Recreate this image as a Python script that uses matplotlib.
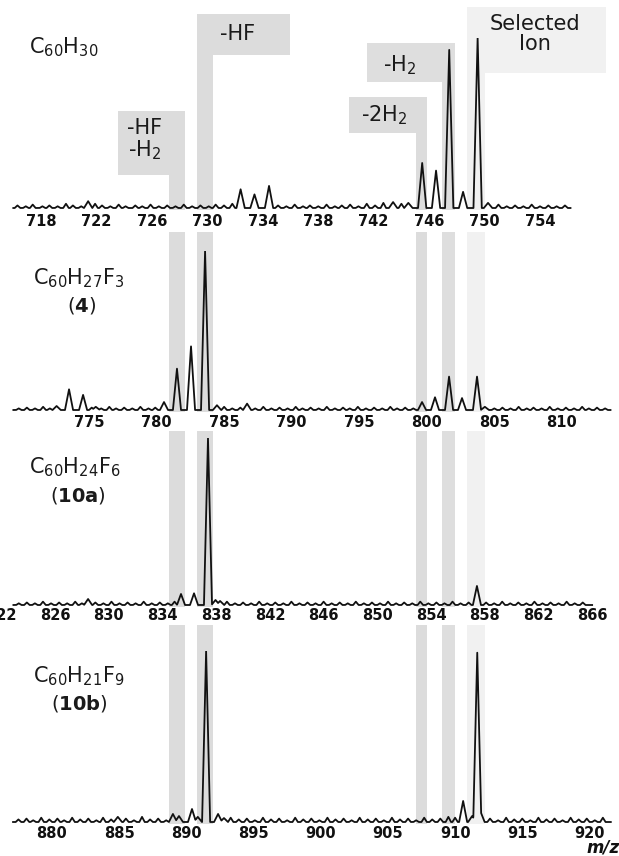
import matplotlib
matplotlib.use('Agg')
import matplotlib.pyplot as plt
import numpy as np
from matplotlib.patches import Rectangle

W, H = 619, 856

# ---- spectra: peak positions (m/z) and relative intensity (%) ----
names = [r'$\mathrm{C_{60}H_{30}}$', r'$\mathrm{C_{60}H_{27}F_3}$',
         r'$\mathrm{C_{60}H_{24}F_6}$', r'$\mathrm{C_{60}H_{21}F_9}$']
labels = ['', r'($\mathbf{4}$)', r'($\mathbf{10a}$)', r'($\mathbf{10b}$)']

ranges = [(716.0, 756.2), (769.4, 813.6), (822.9, 866.0), (877.1, 921.6)]

peak_mz = [
    [721.4, 732.4, 733.4, 734.45, 743.4, 744.5, 745.5, 746.5, 747.45, 748.45,
     749.5, 750.25],
    [772.6, 773.52, 774.56, 775.5, 780.55, 781.51, 782.55, 783.59, 784.47,
     786.7, 799.65, 800.61, 801.65, 802.61, 803.72, 804.3],
    [828.46, 835.38, 836.35, 837.39, 837.95, 838.29, 857.42],
    [884.9, 889.0, 889.45, 890.42, 890.85, 891.47, 892.36, 892.8, 910.6,
     911.27, 911.65, 911.9],
]
peak_int = [
    [4, 11, 8, 13, 3.5, 3, 26.5, 22, 93, 9.5, 100, 3],
    [2.5, 13, 9.5, 2, 5, 26, 40, 100, 3, 4, 5, 8, 21, 7.5, 21, 2],
    [3.6, 6.6, 7, 100, 3, 2.4, 11.4],
    [3, 4.7, 3.5, 7.6, 3, 100, 4.7, 2.3, 12.3, 3.5, 99, 6],
]

# baseline noise
noise_mz = [
    [716.3, 716.9, 717.4, 718.1, 718.6, 719.2, 719.8, 720.3, 720.9, 721.9,
     722.4, 723.0, 723.6, 724.1, 724.8, 725.3, 725.9, 726.5, 727.1, 727.7,
     728.3, 728.9, 729.5, 730.1, 730.6, 731.2, 731.8, 735.1, 735.7, 736.3,
     736.9, 737.4, 738.0, 738.6, 739.2, 739.7, 740.3, 740.9, 741.5, 742.1,
     742.7, 744.0, 751.0, 751.6, 752.2, 752.8, 753.4, 754.0, 754.6, 755.2,
     755.8],
    [769.8, 770.4, 771.0, 771.6, 772.1, 775.2, 775.9, 776.5, 777.0, 777.6,
     778.2, 778.8, 779.4, 779.9, 785.0, 785.6, 786.2, 787.3, 787.9, 788.5,
     789.1, 789.7, 790.3, 790.8, 791.4, 792.0, 792.6, 793.2, 793.8, 794.3,
     794.9, 795.5, 796.1, 796.7, 797.3, 797.8, 798.4, 799.0, 805.0, 805.6,
     806.2, 806.8, 807.4, 807.9, 808.5, 809.1, 809.7, 810.3, 810.9, 811.5,
     812.0, 812.6, 813.2],
    [823.3, 823.9, 824.5, 825.1, 825.7, 826.3, 826.9, 827.5, 828.0, 829.0,
     829.6, 830.2, 830.8, 831.4, 832.0, 832.6, 833.2, 833.8, 834.4, 834.9,
     838.8, 839.4, 840.0, 840.6, 841.2, 841.8, 842.4, 843.0, 843.6, 844.2,
     844.8, 845.4, 846.0, 846.6, 847.2, 847.8, 848.4, 849.0, 849.6, 850.2,
     850.8, 851.4, 852.0, 852.6, 853.2, 853.8, 854.4, 855.0, 855.6, 856.2,
     856.8, 858.1, 858.7, 859.3, 859.9, 860.5, 861.1, 861.7, 862.3, 862.9,
     863.5, 864.1, 864.7, 865.3],
    [877.5, 878.1, 878.6, 879.2, 879.8, 880.4, 880.9, 881.5, 882.1, 882.7,
     883.3, 883.8, 884.4, 885.5, 886.1, 886.7, 887.3, 887.9, 888.5, 893.3,
     893.9, 894.5, 895.1, 895.7, 896.3, 896.9, 897.5, 898.1, 898.7, 899.3,
     899.9, 900.5, 901.1, 901.7, 902.3, 902.9, 903.5, 904.1, 904.7, 905.3,
     905.9, 906.5, 907.1, 907.7, 908.3, 908.9, 909.5, 910.0, 912.6, 913.2,
     913.8, 914.4, 915.0, 915.6, 916.2, 916.8, 917.4, 918.0, 918.6, 919.2,
     919.8, 920.4, 921.0],
]
noise_int = [
    [1.5, 1, 2, 1, 1.5, 1, 2.5, 1.5, 1, 2.5, 1.5, 1, 2, 1, 1.5, 1, 2, 1, 1.5,
     1, 2, 1, 1.5, 1, 2, 1.5, 2.5, 1.5, 1, 2, 1, 1.5, 1, 2, 1, 1.5, 2, 1, 2.5,
     1.5, 3, 2.5, 2, 1, 1.5, 1, 2, 1, 1.5, 1, 1.5],
    [1, 1.5, 1, 2, 1, 1.5, 1, 2, 1, 1.5, 1, 2, 1, 1.5, 2, 1, 1.5, 1, 2, 1,
     1.5, 1, 2, 1, 1.5, 1, 2, 1, 1.5, 1, 2, 1, 1.5, 1, 2, 1, 1.5, 1, 1, 1.5,
     1, 2, 1, 1.5, 1, 2, 1, 1.5, 1, 2, 1, 1.5, 1],
    [1, 1.5, 1, 2, 1, 1.5, 1, 2, 1, 1.5, 1, 2, 1, 1.5, 1, 2, 1, 1.5, 1, 2,
     2, 1, 1.5, 1, 2, 1, 1.5, 1, 2, 1, 1.5, 1, 2, 1, 1.5, 1, 2, 1, 1.5, 1, 2,
     1, 1.5, 1, 2, 1, 1.5, 1, 2, 1, 1.5, 1.5, 1, 2, 1, 1.5, 1, 2, 1, 1.5, 1,
     2, 1, 1.5],
    [1.5, 2, 1, 2.5, 1.5, 2, 1, 2.5, 1.5, 2, 1, 2.5, 1.5, 2, 1, 3, 1.5, 2, 1,
     2.5, 1.5, 2, 1, 2.5, 1.5, 2, 1, 2.5, 1.5, 2, 1, 2.5, 1.5, 2, 1, 2.5, 1.5,
     2, 1, 2.5, 1.5, 2, 1, 2.5, 1.5, 2, 3, 2.5, 2, 1, 2.5, 1.5, 2, 1, 2.5,
     1.5, 2, 1, 2.5, 1.5, 2, 1, 2.5],
]

ticks = [np.arange(718, 755, 4), np.arange(775, 811, 5),
         np.arange(822, 867, 4), np.arange(880, 921, 5)]

# fragment strips, m/z in the C60H30 spectrum
strip_mz = [727.8, 729.85, 745.45, 747.4, 749.4]
strip_w = [1.15, 1.15, 0.85, 1.0, 1.3]
strip_text = ['-HF\n-H$_2$', '-HF', '-2H$_2$', '-H$_2$', 'Selected\nIon']

# ---- layout (pixels) ----
base = [208, 410, 605, 822]
top = [38, 251, 438, 651]
lab_y = [220, 421, 614, 832]
xlims = [(715.04, 759.70), (768.41, 814.23), (821.9, 868.0), (876.13, 922.2)]
name_xy = [(64, 47), (79, 278), (75, 467), (79, 676)]
sub_xy = [None, (82, 305), (78, 495), (79, 703)]
strip_y = [None, (232, 412), (431, 607), (625, 824)]
# box: (width, top, bottom, align)
boxes = [(67, 111, 175, 'right'), (93, 14, 55, 'left'),
         (78, 97, 133, 'right'), (88, 43, 82, 'right'),
         (139, 7, 73, 'left')]
box_txt = [(145, 140), (238, 34), (384, 115), (400, 65), (535, 34)]
box_col = ['#dcdcdc', '#dcdcdc', '#dcdcdc', '#dedede', '#f1f1f1']

plt.rcParams['font.family'] = 'DejaVu Sans'
plt.rcParams['mathtext.fontset'] = 'dejavusans'

fig = plt.figure(figsize=(W / 100, H / 100), dpi=100)
fs_tick = 10.5
axes = []
for i in range(4):
    unit = (base[i] - top[i]) / 100.
    bot = base[i] + 3 * unit
    ax = fig.add_axes([0, 1 - bot / H, 1, (bot - top[i]) / H])
    ax.patch.set_visible(False)
    lo, hi = ranges[i]
    x = np.arange(lo, hi, 0.01)
    y = np.zeros_like(x)
    for m, v in zip(peak_mz[i], peak_int[i]):
        y = np.maximum(y, v * np.clip(1 - np.abs(x - m) / 0.3, 0, 1))
    for m, v in zip(noise_mz[i], noise_int[i]):
        y = np.maximum(y, v * np.clip(1 - np.abs(x - m) / 0.2, 0, 1))
    ax.plot(x, y, color='#111111', lw=1.3)
    ax.set_xlim(xlims[i])
    ax.set_ylim(-3, 100)
    for s in ax.spines.values():
        s.set_visible(False)
    ax.set_yticks([])
    pad_px = (lab_y[i] - 5.8) - bot
    ax.set_xticks(ticks[i])
    ax.tick_params(axis='x', length=0, pad=pad_px * 0.72, labelsize=fs_tick)
    for t in ax.get_xticklabels():
        t.set_fontweight('bold')
        t.set_color('#111111')
    axes.append(ax)

ax1 = axes[0]


def fig_rect(x0, x1, y0, y1, color):
    r = Rectangle((x0 / W, 1 - y1 / H), (x1 - x0) / W, (y1 - y0) / H,
                  transform=fig.transFigure, facecolor=color,
                  edgecolor='none', zorder=-1)
    fig.add_artist(r)


for k in range(5):
    ends = ax1.transData.transform([[strip_mz[k] - strip_w[k] / 2, 0],
                                    [strip_mz[k] + strip_w[k] / 2, 0]])
    x0, x1 = ends[0, 0], ends[1, 0]
    bw, bt, bb, al = boxes[k]
    if al == 'right':
        bx0, bx1 = x1 - bw, x1
    else:
        bx0, bx1 = x0, x0 + bw
    fig_rect(bx0, bx1, bt, bb, box_col[k])
    fig_rect(x0, x1, bb, 210, box_col[k])
    for i in range(1, 4):
        fig_rect(x0, x1, strip_y[i][0], strip_y[i][1], box_col[k])
    tx, ty = box_txt[k]
    fig.text(tx / W, 1 - ty / H, strip_text[k], ha='center', va='center',
             fontsize=15, color='#1a1a1a', linespacing=1.05)

for i in range(4):
    nx, ny = name_xy[i]
    fig.text(nx / W, 1 - ny / H, names[i], ha='center', va='center',
             fontsize=15, color='#1a1a1a')
    if sub_xy[i]:
        sx, sy = sub_xy[i]
        fig.text(sx / W, 1 - sy / H, labels[i], ha='center', va='center',
                 fontsize=14, color='#1a1a1a')

fig.text(586 / W, 1 - 848 / H, 'm/z', ha='left', va='center', fontsize=12,
         fontweight='bold', fontstyle='italic', color='#111111')

fig.savefig('out.png', dpi=100)
